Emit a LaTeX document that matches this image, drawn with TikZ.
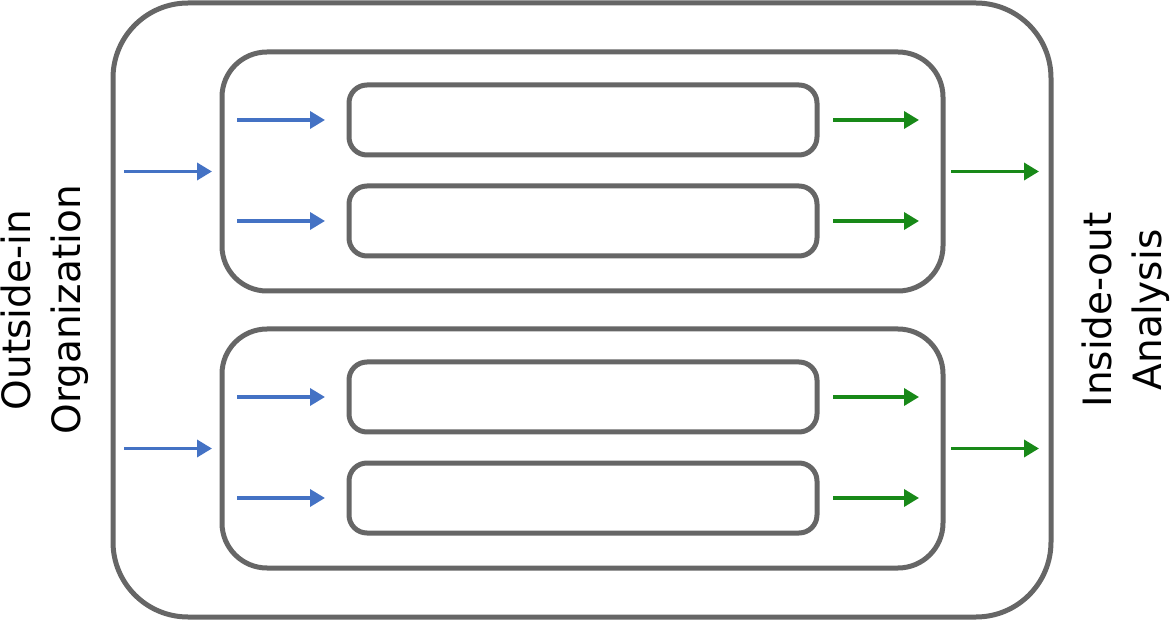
\documentclass[tikz,border=0pt]{standalone}
\usepackage{fontspec}
\setmainfont{DejaVu Sans}
\usetikzlibrary{arrows.meta}
\definecolor{boxgray}{RGB}{102,102,102}
\definecolor{inblue}{RGB}{68,114,196}
\definecolor{outgreen}{RGB}{24,137,24}
\begin{document}
\begin{tikzpicture}[x=1pt,y=-1pt,
  outerbox/.style={draw=boxgray,line width=5pt,rounded corners=75pt,minimum width=938pt,minimum height=614pt,inner sep=0pt,outer sep=0pt},
  groupbox/.style={draw=boxgray,line width=5pt,rounded corners=45pt,minimum width=721pt,minimum height=239pt,inner sep=0pt,outer sep=0pt},
  itembox/.style={draw=boxgray,line width=5pt,rounded corners=18pt,minimum width=468pt,minimum height=70pt,inner sep=0pt,outer sep=0pt},
  barrow/.style={draw=inblue,line width=3.5pt,-{Triangle[length=15pt,width=17pt]}},
  garrow/.style={draw=outgreen,line width=3.5pt,-{Triangle[length=15pt,width=17pt]}},
  sidelabel/.style={rotate=90,align=center,font=\fontsize{39}{50}\selectfont,inner sep=0pt}]
\useasboundingbox (0,0) rectangle (1171,620);
\node[outerbox] (outer) at (582,310) {};
\node[groupbox] (g1) at (582.5,171.5) {};
\node[groupbox] (g2) at (582.5,448.5) {};
\node[itembox] (s1) at (583,120) {};
\node[itembox] (s2) at (583,221) {};
\node[itembox] (s3) at (583,397) {};
\node[itembox] (s4) at (583,498) {};
% outer input arrows
\draw[barrow] ([xshift=-98pt]g1.west) -- ([xshift=-10pt]g1.west);
\draw[barrow] ([xshift=-98pt]g2.west) -- ([xshift=-10pt]g2.west);
% inner arrows
\foreach \s in {s1,s2,s3,s4}{
  \draw[barrow] ([xshift=-112pt]\s.west) -- ([xshift=-24pt]\s.west);
  \draw[garrow] ([xshift=16pt]\s.east) -- ([xshift=102pt]\s.east);
}
% outer output arrows
\draw[garrow] ([xshift=8pt]g1.east) -- ([xshift=96pt]g1.east);
\draw[garrow] ([xshift=8pt]g2.east) -- ([xshift=96pt]g2.east);
\node[sidelabel] (left) at (45,310) {Outside-in\\Organization};
\node[sidelabel] (right) at (1126,310) {Inside-out\\Analysis};
\end{tikzpicture}
\end{document}
